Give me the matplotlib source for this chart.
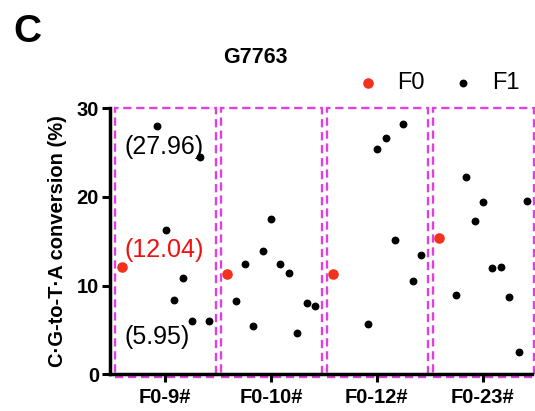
import matplotlib
matplotlib.use('Agg')
import matplotlib.pyplot as plt
from matplotlib.patches import Rectangle

plt.rcParams['font.family'] = ['Liberation Sans', 'DejaVu Sans']

groups = ['F0-9#', 'F0-10#', 'F0-12#', 'F0-23#']

# F0 value of each founder (red), drawn at the left edge of its group
f0_values = [12.04, 11.27, 11.27, 15.33]
f0_offset = [-0.41, -0.42, -0.41, -0.41]

# F1 offspring values and their horizontal spread inside each group
f1_values = [
    [27.96, 24.5, 16.27, 10.82, 8.38, 6.05, 5.95],
    [17.5, 12.4, 13.9, 12.43, 11.39, 8.26, 5.45, 8.07, 7.7, 4.69],
    [28.18, 26.6, 25.4, 15.14, 13.45, 10.52, 5.67],
    [22.28, 19.46, 19.57, 17.28, 11.95, 12.13, 8.94, 8.68, 2.55],
]
f1_offset = [
    [-0.08, 0.33, 0.01, 0.17, 0.085, 0.25, 0.415],
    [0.0, -0.245, -0.08, 0.085, 0.17, -0.33, -0.17, 0.34, 0.42, 0.25],
    [0.25, 0.085, 0.0, 0.17, 0.42, 0.34, -0.08],
    [-0.16, 0.0, 0.42, -0.075, 0.09, 0.17, -0.25, 0.25, 0.34],
]

notes = ['(27.96)', '(12.04)', '(5.95)']
note_y = [25.66, 14.0, 4.24]
note_colors = ['black', '#f01010', 'black']

red = '#f2321e'
pink = '#e040e0'

fig = plt.figure(figsize=(5.35, 4.11), dpi=100)
ax = fig.add_axes([0.2056, 0.0893, 0.788, 0.6478])

for i in range(len(groups)):
    ax.add_patch(Rectangle((i - 0.47, -0.27), 0.95, 30.27, fill=False,
                           edgecolor=pink, linewidth=1.7, linestyle=(0, (3.5, 2)),
                           clip_on=False, zorder=1))
    ax.scatter([i + d for d in f1_offset[i]], f1_values[i], s=32, color='black',
               zorder=3, clip_on=False, linewidths=0)
    ax.scatter([i + f0_offset[i]], [f0_values[i]], s=58, color=red,
               zorder=3, clip_on=False, linewidths=0)

for txt, y, c in zip(notes, note_y, note_colors):
    ax.text(-0.387, y, txt, color=c, fontsize=18, ha='left', va='center', zorder=4)

ax.set_xlim(-0.52, 3.46)
ax.set_ylim(0, 30)
ax.set_yticks([0, 10, 20, 30])
ax.set_xticks(range(len(groups)))
ax.set_xticklabels(groups)
for spine in ['top', 'right']:
    ax.spines[spine].set_visible(False)
for spine in ['left', 'bottom']:
    ax.spines[spine].set_linewidth(2.5)
ax.tick_params(axis='both', length=6, width=2.2, labelsize=14.5, pad=2)
ax.tick_params(axis='x', pad=4)
for lab in ax.get_xticklabels() + ax.get_yticklabels():
    lab.set_fontweight('bold')

ax.set_ylabel('C·G-to-T·A conversion (%)', fontsize=14.5, fontweight='bold', labelpad=7)

fig.text(0.478, 0.86, 'G7763', fontsize=15.5, fontweight='bold', ha='center', va='center')
fig.text(0.052, 0.922, 'C', fontsize=28, fontweight='bold', ha='center', va='center')

# legend drawn in pixel coordinates of the figure
lax = fig.add_axes([0, 0, 1, 1], facecolor='none')
lax.set_axis_off()
lax.set_xlim(0, 535)
lax.set_ylim(411, 0)
lax.scatter([367.7], [83], s=58, color=red, linewidths=0)
lax.scatter([462.7], [83], s=32, color='black', linewidths=0)
lax.text(397, 83, 'F0', fontsize=17, va='center', ha='left')
lax.text(492, 83, 'F1', fontsize=17, va='center', ha='left')

fig.savefig('out.png', dpi=100)
